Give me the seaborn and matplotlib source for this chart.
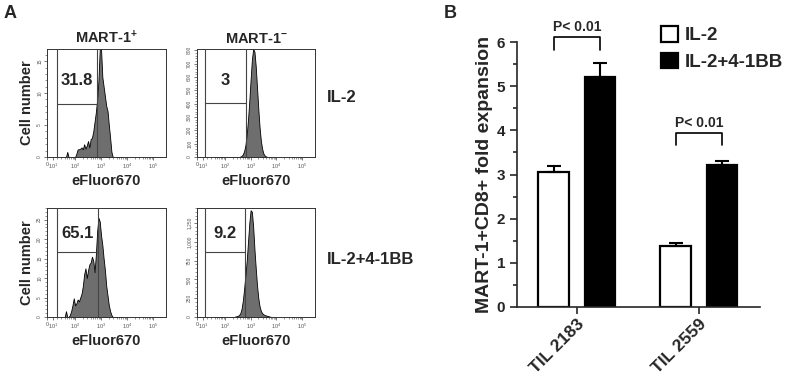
import numpy as np
import pandas as pd
import matplotlib
matplotlib.use("Agg")
import matplotlib.pyplot as plt
from matplotlib.ticker import FixedLocator, MultipleLocator
import seaborn as sns

sns.set_style("ticks")
plt.rcParams['font.family'] = ['Liberation Sans', 'DejaVu Sans']
plt.rcParams['font.weight'] = 'bold'
plt.rcParams['mathtext.default'] = 'regular'

# ---------------- panel A: eFluor670 dilution histograms ----------------
# bin centres in log10(eFluor670) units
bin_centers = [1.60, 1.65, 1.70, 1.75, 1.80, 1.85, 1.90, 1.95, 2.00, 2.05,
               2.10, 2.15, 2.20, 2.25, 2.30, 2.35, 2.40, 2.45, 2.50, 2.55,
               2.60, 2.65, 2.70, 2.75, 2.80, 2.85, 2.90, 2.95, 3.00, 3.05,
               3.10, 3.15, 3.20, 3.25, 3.30, 3.35, 3.40, 3.45, 3.50, 3.55,
               3.60, 3.65, 3.70, 3.75, 3.80]

# MART-1+ / IL-2
counts_pos_il2 = [0, 0, 0.8, 0, 0, 0, 0, 0, 0, 0.5,
                  1.2, 1.2, 1.3, 1.5, 1.2, 2.0, 1.3, 1.8, 2.5, 1.5,
                  2.8, 3.0, 4.0, 5.5, 7.0, 9.0, 12.0, 16.9, 16.9, 12.5,
                  11.0, 9.5, 8.0, 7.2, 5.0, 3.0, 0.8, 0, 0, 0,
                  0, 0, 0, 0, 0]
# MART-1- / IL-2
counts_neg_il2 = [0, 0, 0, 0, 0, 0, 0, 0, 0, 0,
                  0, 0, 0, 0, 0, 0, 0, 0, 0, 0,
                  3, 8, 20, 45, 90, 170, 280, 420, 580, 730,
                  810, 790, 680, 520, 360, 220, 120, 60, 25, 10,
                  4, 0, 0, 0, 0]
# MART-1+ / IL-2+4-1BB
counts_pos_bb = [0, 1.5, 0, 0, 0.5, 1.5, 3.0, 4.8, 3.0, 3.5,
                 4.5, 4.0, 5.0, 6.0, 8.0, 11.0, 12.5, 10.0, 12.0, 13.5,
                 14.0, 15.5, 14.5, 11.5, 16.0, 22.0, 25.5, 24.5, 21.0, 18.5,
                 15.0, 12.0, 8.0, 5.5, 3.0, 1.5, 0.5, 0, 0, 0,
                 0, 0, 0, 0, 0]
# MART-1- / IL-2+4-1BB
counts_neg_bb = [0, 0, 0, 0, 0, 0, 0, 0, 0, 0,
                 0, 0, 0, 0, 0, 0, 5, 10, 15, 25,
                 50, 110, 220, 380, 560, 750, 1000, 1250, 1420, 1400,
                 1200, 900, 650, 420, 250, 140, 80, 50, 35, 25,
                 20, 15, 10, 5, 0]

hist_counts = [counts_pos_il2, counts_neg_il2, counts_pos_bb, counts_neg_bb]
y_max = [16.9, 810, 28, 1450]
y_step = [5, 100, 5, 250]
y_minor = [1, 20, 1, 50]
gate_lo = [1.30, 1.23, 1.30, 1.23]
gate_hi = [2.85, 2.84, 2.88, 2.80]
gate_level = [8.3, 405, 16.8, 870]
gate_pct = ["31.8", "3", "65.1", "9.2"]
col_titles = ["MART-1$^{+}$", "MART-1$^{-}$"]
row_labels = ["IL-2", "IL-2+4-1BB"]

# ---------------- panel B: fold expansion ----------------
til_names = ["TIL 2183", "TIL 2559"]
treatments = ["IL-2", "IL-2+4-1BB"]
fold_il2 = [3.05, 1.38]
fold_41bb = [5.20, 3.22]
sem_il2 = [0.15, 0.07]
sem_41bb = [0.33, 0.09]
p_labels = ["P< 0.01", "P< 0.01"]
bracket_top = [6.11, 3.94]

W, H = 785, 380
fig = plt.figure(figsize=(W / 100, H / 100), dpi=100)


def px_axes(l, t, r, b):
    return fig.add_axes([l / W, 1 - b / H, (r - l) / W, (b - t) / H])


hist_boxes = [(47, 49, 166, 157), (197, 49, 315, 157),
              (47, 208, 166, 317), (197, 208, 315, 317)]

x_major = [0.92, 1.16, 2, 3, 4, 5]
x_major_lab = ["0", "$10^{1}$", "$10^{2}$", "$10^{3}$", "$10^{4}$", "$10^{5}$"]
x_minor = [d + np.log10(k) for d in range(1, 5) for k in range(2, 10)]

for i, box in enumerate(hist_boxes):
    ax = px_axes(*box)
    sns.histplot(x=bin_centers, weights=hist_counts[i], binwidth=0.05,
                 binrange=(1.575, 3.825), element="poly", fill=True,
                 facecolor="#6e6e6e", edgecolor="black", linewidth=0.6,
                 alpha=1, ax=ax)
    ax.set_xlim(0.92, 5.5)
    ax.set_ylim(0, y_max[i])
    # gate
    ax.axvline(gate_lo[i], color="#444444", lw=0.8, zorder=5)
    ax.axvline(gate_hi[i], color="#444444", lw=0.8, zorder=5)
    ax.plot([gate_lo[i], gate_hi[i]], [gate_level[i], gate_level[i]],
            color="#444444", lw=0.8, zorder=5)
    ax.text((gate_lo[i] + gate_hi[i]) / 2,
            gate_level[i] + 0.42 * (y_max[i] - gate_level[i]),
            gate_pct[i], ha="center", va="center", fontsize=12, fontweight="bold")
    # ticks
    ax.xaxis.set_major_locator(FixedLocator(x_major))
    ax.set_xticklabels(x_major_lab, fontsize=4, fontweight="normal", color="#555555")
    ax.xaxis.set_minor_locator(FixedLocator(x_minor))
    ax.yaxis.set_major_locator(MultipleLocator(y_step[i]))
    ax.yaxis.set_minor_locator(MultipleLocator(y_minor[i]))
    ylabs = ["{:,}".format(int(v)) for v in ax.get_yticks()]
    ax.set_yticks(ax.get_yticks())
    ax.set_yticklabels(ylabs, fontsize=3.5, fontweight="normal", color="#555555",
                       rotation=90, va="center")
    ax.set_ylim(0, y_max[i])
    ax.tick_params(which="major", length=2.5, width=0.5, pad=1, colors="#444444",
                   labelcolor="#555555")
    ax.tick_params(which="minor", length=1.5, width=0.4, colors="#444444")
    for s in ax.spines.values():
        s.set_linewidth(0.7)
        s.set_color("#333333")
    ax.set_xlabel("eFluor670", fontsize=10.5, fontweight="bold", labelpad=2)
    if i % 2 == 0:
        ax.set_ylabel("Cell number", fontsize=10.5, fontweight="bold", labelpad=2)
    else:
        ax.set_ylabel("")
    if i < 2:
        ax.set_title(col_titles[i], fontsize=10.5, fontweight="bold", pad=4)

fig.text(327 / W, 1 - 98 / H, row_labels[0], ha="left", va="center", fontsize=12)
fig.text(327 / W, 1 - 260 / H, row_labels[1], ha="left", va="center", fontsize=12)
fig.text(10 / W, 1 - 14 / H, "A", ha="center", va="center", fontsize=13)
fig.text(450 / W, 1 - 14 / H, "B", ha="center", va="center", fontsize=13)

# ---------------- panel B ----------------
axB = px_axes(517, 42, 760, 307)
df = pd.DataFrame({
    "TIL": til_names * 2,
    "treatment": [treatments[0]] * 2 + [treatments[1]] * 2,
    "fold": fold_il2 + fold_41bb,
})
sns.barplot(data=df, x="TIL", y="fold", hue="treatment", hue_order=treatments,
            palette={"IL-2": "white", "IL-2+4-1BB": "black"},
            edgecolor="black", linewidth=1.6, width=0.76, gap=0.34,
            errorbar=None, ax=axB)

centers = []
for cont, sems in zip(axB.containers, [sem_il2, sem_41bb]):
    cx = []
    for bar, s in zip(cont, sems):
        x = bar.get_x() + bar.get_width() / 2
        cx.append(x)
        axB.errorbar(x, bar.get_height(), yerr=[[0], [s]], fmt="none",
                     ecolor="black", elinewidth=1.5, capsize=5, capthick=1.5)
    centers.append(cx)

for j in range(len(til_names)):
    x0, x1 = centers[0][j], centers[1][j]
    top = bracket_top[j]
    axB.plot([x0, x0, x1, x1], [top - 0.28, top, top, top - 0.28],
             color="black", lw=1.2, clip_on=False)
    axB.text((x0 + x1) / 2, top + 0.23, p_labels[j], ha="center", va="center",
             fontsize=10, fontweight="bold")

axB.set_xlim(-0.49, 1.5)
axB.set_ylim(0, 6)
axB.yaxis.set_major_locator(MultipleLocator(1))
axB.yaxis.set_minor_locator(MultipleLocator(0.5))
axB.tick_params(axis="y", which="major", length=5, width=1.2, labelsize=11)
axB.tick_params(axis="y", which="minor", length=3, width=1.2)
axB.tick_params(axis="x", length=5, width=1.2, labelsize=12.5, pad=2)
for lab in axB.get_xticklabels():
    lab.set_rotation(45)
    lab.set_ha("right")
    lab.set_rotation_mode("anchor")
    lab.set_fontweight("bold")
for lab in axB.get_yticklabels():
    lab.set_fontweight("bold")
axB.set_xlabel("")
axB.set_ylabel("MART-1+CD8+ fold expansion", fontsize=14, fontweight="bold", labelpad=3)
for s in ["left", "bottom"]:
    axB.spines[s].set_linewidth(1.2)
sns.despine(ax=axB)

handles, labels = axB.get_legend_handles_labels()
axB.legend(handles, labels, loc="upper left", bbox_to_anchor=(0.593, 1.06),
           frameon=False, prop={"size": 13.5, "weight": "bold"},
           handlelength=0.9, handleheight=0.9, handletextpad=0.35,
           labelspacing=0.45, borderpad=0, borderaxespad=0)

fig.savefig("out.png", dpi=100)
